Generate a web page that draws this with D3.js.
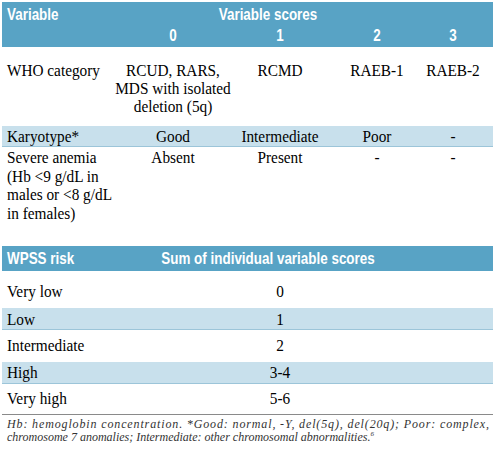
<!DOCTYPE html>
<html><head><meta charset="utf-8">
<script src="https://cdn.jsdelivr.net/npm/d3@7"></script>
<style>body{margin:0;background:#fff}svg{display:block}</style>
</head><body>
<script>
// ---- data ----
const scoreLabels = ["0", "1", "2", "3"];
const variableNames = [
  ["WHO category"],
  ["Karyotype*"],
  ["Severe anemia", "(Hb <9 g/dL in", "males or <8 g/dL", "in females)"]
];
const whoScores = [["RCUD, RARS,", "MDS with isolated", "deletion (5q)"], ["RCMD"], ["RAEB-1"], ["RAEB-2"]];
const karyotypeScores = [["Good"], ["Intermediate"], ["Poor"], ["-"]];
const anemiaScores = [["Absent"], ["Present"], ["-"], ["-"]];
const riskLabels = ["Very low", "Low", "Intermediate", "High", "Very high"];
const riskSums = ["0", "1", "2", "3-4", "5-6"];
const headerTexts = ["Variable", "Variable scores", "WPSS risk", "Sum of individual variable scores"];
const footnote1 = "Hb: hemoglobin concentration. *Good: normal, -Y, del(5q), del(20q); Poor: complex,";
const footnote2 = "chromosome 7 anomalies; Intermediate: other chromosomal abnormalities.";

// ---- layout ----
const W = 495, H = 457;
const blue = "#58a3c5", light = "#c8e0ec", lightEdge = "#9cc5d9";
const svg = d3.select("body").append("svg").attr("width", W).attr("height", H);

const colX = d3.scaleOrdinal().domain(scoreLabels).range([173, 280, 377, 453]);
const sumX = 280, headCenter = 268, leftX = 7;

function bandRect(y0, y1, fill, edge) {
  svg.append("rect").attr("x", 2).attr("y", y0).attr("width", 491).attr("height", y1 - y0).attr("fill", fill);
  if (edge) svg.append("rect").attr("x", 2).attr("y", y1 - 1).attr("width", 491).attr("height", 1).attr("fill", edge);
}
function head(txt, x, y, anchor) {
  svg.append("text").attr("transform", `translate(${x},${y}) scale(0.84,1)`)
    .attr("text-anchor", anchor).attr("fill", "#fff")
    .style("font-family", "'Liberation Sans', Arial, sans-serif").style("font-weight", "bold")
    .style("font-size", "16px").text(txt);
}
function body(lines, x, y0, anchor, lh) {
  lines.forEach((t, i) => {
    svg.append("text").attr("transform", `translate(${x},${y0 + i * lh}) scale(0.9,1)`)
      .attr("text-anchor", anchor).attr("fill", "#000")
      .style("font-family", "'Liberation Serif', 'Times New Roman', serif")
      .style("font-size", "17px").text(t);
  });
}

// header 1
bandRect(2, 47, blue);
head(headerTexts[0], leftX, 20, "start");
head(headerTexts[1], headCenter, 20, "middle");
scoreLabels.forEach(s => head(s, colX(s), 41, "middle"));

// WHO row
body(variableNames[0], leftX, 76, "start", 18);
whoScores.forEach((lines, i) => body(lines, colX(scoreLabels[i]), 76, "middle", 18));

// Karyotype row
bandRect(126, 147, light, lightEdge);
body(variableNames[1], leftX, 142, "start", 18);
karyotypeScores.forEach((lines, i) => body(lines, colX(scoreLabels[i]), 142, "middle", 18));

// Severe anemia row
body(variableNames[2], leftX, 163, "start", 18.5);
anemiaScores.forEach((lines, i) => body(lines, colX(scoreLabels[i]), 163, "middle", 18.5));

// header 2
bandRect(246, 271, blue);
head(headerTexts[2], leftX, 264, "start");
head(headerTexts[3], headCenter, 264, "middle");

// risk rows
const riskY = d3.scaleOrdinal().domain(riskLabels).range([297, 325, 351, 378, 404]);
const riskBands = {"Low": [308, 330], "High": [362, 384]};
riskLabels.forEach((r) => {
  if (riskBands[r]) bandRect(riskBands[r][0], riskBands[r][1], light, lightEdge);
});
riskLabels.forEach((r, i) => {
  body([r], leftX, riskY(r), "start", 18);
  body([riskSums[i]], sumX, riskY(r), "middle", 18);
});

// bottom rule
svg.append("rect").attr("x", 2).attr("y", 414).attr("width", 491).attr("height", 1).attr("fill", "#8a8a8a");

// footnote
const fn = svg.append("g").style("font-family", "'Liberation Serif', serif").style("font-style", "italic")
  .style("font-size", "12px").attr("fill", "#333");
fn.append("text").attr("x", leftX).attr("y", 428).attr("textLength", 482).attr("lengthAdjust", "spacing").text(footnote1);
const t2 = fn.append("text").attr("x", leftX).attr("y", 441).text(footnote2);
t2.append("tspan").attr("dy", -5).style("font-size", "7px").text("6");
</script>
</body></html>
